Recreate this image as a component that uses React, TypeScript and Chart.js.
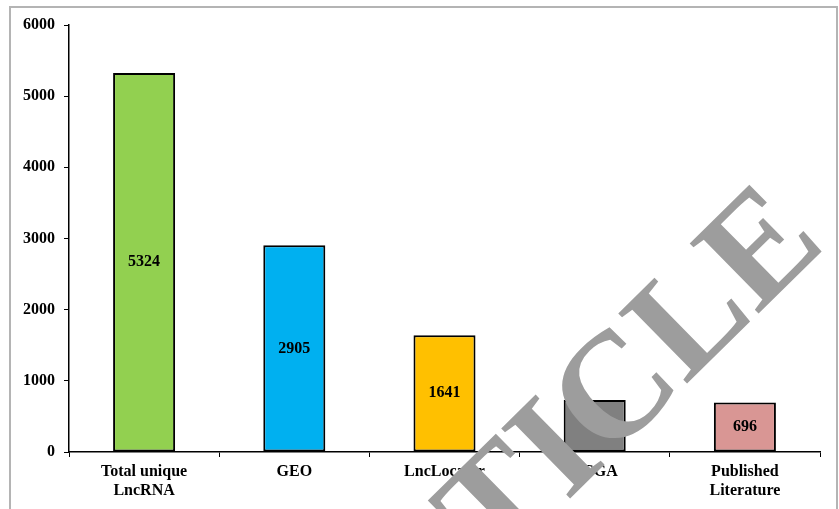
import React, { useEffect, useRef } from "react";
import { Chart, registerables } from "chart.js";

Chart.register(...registerables);

const categories: string[][] = [
  ["Total unique", "LncRNA"],
  ["GEO"],
  ["LncLocator"],
  ["TCGA"],
  ["Published", "Literature"],
];
const values: number[] = [5324, 2905, 1641, 730, 696];
const valueLabels: string[] = ["5324", "2905", "1641", "", "696"];
const barColors: string[] = ["#92D050", "#00B0F0", "#FFC000", "#808080", "#D99694"];
const yMin = 0;
const yMax = 6000;
const yStep = 1000;
const watermarkText = "RETRACTED ARTICLE";

const FONT = '"Liberation Serif", "Times New Roman", serif';

export default function App() {
  const canvasRef = useRef<HTMLCanvasElement | null>(null);

  useEffect(() => {
    const canvas = canvasRef.current;
    if (!canvas) return;

    const valueLabelPlugin = {
      id: "valueLabels",
      afterDatasetsDraw(chart: any) {
        const ctx = chart.ctx;
        const meta = chart.getDatasetMeta(0);
        ctx.save();
        ctx.font = `bold 16px ${FONT}`;
        ctx.fillStyle = "#000";
        ctx.textAlign = "center";
        ctx.textBaseline = "middle";
        meta.data.forEach((bar: any, i: number) => {
          const t = valueLabels[i];
          if (!t) return;
          ctx.fillText(t, bar.x, (bar.y + bar.base) / 2);
        });
        ctx.restore();
      },
    };

    const framePlugin = {
      id: "frameAndWatermark",
      afterDraw(chart: any) {
        const ctx = chart.ctx;
        ctx.save();
        ctx.strokeStyle = "#b4b4b4";
        ctx.lineWidth = 2;
        ctx.beginPath();
        ctx.moveTo(10, 509);
        ctx.lineTo(10, 7);
        ctx.lineTo(837, 7);
        ctx.lineTo(837, 509);
        ctx.stroke();
        ctx.restore();

        ctx.save();
        ctx.translate(828, 245);
        ctx.rotate((-44.5 * Math.PI) / 180);
        ctx.font = `bold 150px ${FONT}`;
        ctx.fillStyle = "#9d9d9d";
        ctx.textAlign = "right";
        ctx.textBaseline = "alphabetic";
        ctx.fillText(watermarkText, 0, 0);
        ctx.restore();
      },
    };

    const chart = new Chart(canvas, {
      type: "bar",
      data: {
        labels: categories,
        datasets: [
          {
            data: values,
            backgroundColor: barColors,
            borderColor: "#000000",
            borderWidth: 2,
            borderSkipped: false,
            categoryPercentage: 1,
            barPercentage: 0.413,
          },
        ],
      },
      options: {
        responsive: false,
        animation: false,
        layout: { padding: { top: 25, right: 19, left: 0, bottom: 0 } },
        plugins: {
          legend: { display: false },
          tooltip: { enabled: false },
          title: { display: false },
        },
        scales: {
          x: {
            offset: true,
            grid: {
              display: true,
              offset: true,
              drawOnChartArea: false,
              drawTicks: true,
              tickLength: 5,
              color: "#000",
              lineWidth: 1,
            },
            border: { display: true, color: "#000", width: 1.5 },
            ticks: {
              color: "#000",
              font: { family: FONT, size: 16, weight: "bold", lineHeight: 1.2 },
              padding: 5,
              maxRotation: 0,
              autoSkip: false,
            },
            afterFit(scale: any) {
              scale.height = 57;
            },
          },
          y: {
            min: yMin,
            max: yMax,
            grid: {
              display: true,
              drawOnChartArea: false,
              drawTicks: true,
              tickLength: 5,
              color: "#000",
              lineWidth: 1,
            },
            border: { display: true, color: "#000", width: 1.5 },
            ticks: {
              stepSize: yStep,
              color: "#000",
              padding: 9,
              font: { family: FONT, size: 16, weight: "bold" },
              callback: (v: any) => String(v),
            },
            afterFit(scale: any) {
              scale.width = 69;
            },
          },
        },
      },
      plugins: [valueLabelPlugin, framePlugin],
    });

    return () => {
      chart.destroy();
    };
  }, []);

  return (
    <div
      style={{
        position: "absolute",
        left: 0,
        top: 0,
        width: 839,
        height: 509,
        background: "#ffffff",
      }}
    >
      <canvas ref={canvasRef} width={839} height={509} style={{ width: 839, height: 509, display: "block" }} />
    </div>
  );
}
